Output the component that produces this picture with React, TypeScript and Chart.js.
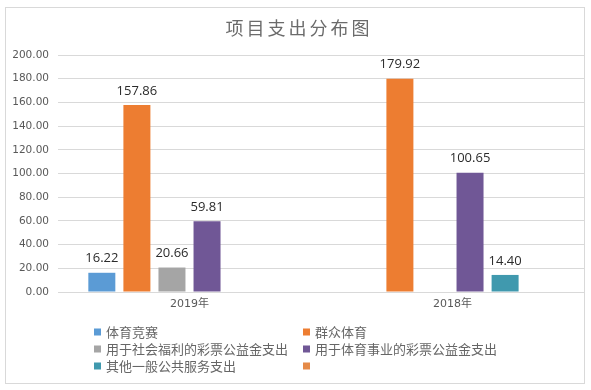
import React, { useEffect, useRef } from 'react';
import { Chart, registerables } from 'chart.js';

Chart.register(...registerables);

const chartTitle = '项目支出分布图';
const categories = ['2019年', '2018年'];
const seriesNames = [
  '体育竞赛',
  '群众体育',
  '用于社会福利的彩票公益金支出',
  '用于体育事业的彩票公益金支出',
  '其他一般公共服务支出',
  '',
];
const sportsCompetition = [16.22, null];
const massSports = [157.86, 179.92];
const welfareLottery = [20.66, null];
const sportsLottery = [59.81, 100.65];
const otherPublicService = [null, 14.4];
const unnamedSeries = [null, null];
const seriesColors = ['#5B9BD5', '#ED7D31', '#A5A5A5', '#705796', '#4099AE', '#E58A48'];
const yMin = 0;
const yMax = 200;
const yStep = 20;

const seriesValues = [
  sportsCompetition,
  massSports,
  welfareLottery,
  sportsLottery,
  otherPublicService,
  unnamedSeries,
];

const CJK = '"Noto Sans CJK SC", "Noto Sans", sans-serif';

const decorPlugin = {
  id: 'decor',
  afterDatasetsDraw(chart: any) {
    const ctx = chart.ctx;
    ctx.save();
    // value labels
    ctx.font = '13px "Open Sans", "DejaVu Sans", sans-serif';
    ctx.fillStyle = '#2B2B2B';
    ctx.textAlign = 'center';
    ctx.textBaseline = 'middle';
    chart.data.datasets.forEach((ds: any, i: number) => {
      const meta = chart.getDatasetMeta(i);
      meta.data.forEach((bar: any, j: number) => {
        const v = ds.data[j];
        if (v === null || v === undefined) return;
        ctx.fillText(Number(v).toFixed(2), bar.x, bar.y - 14);
      });
    });
    // title
    ctx.font = `18px ${CJK}`;
    ctx.fillStyle = '#6B6B6B';
    try {
      (ctx as any).letterSpacing = '3px';
    } catch (e) {}
    ctx.fillText(chartTitle, 299, 28);
    try {
      (ctx as any).letterSpacing = '0px';
    } catch (e) {}
    // legend
    ctx.font = `13px ${CJK}`;
    ctx.textAlign = 'left';
    const colX = [94, 303];
    const rowY = [332, 349, 366];
    seriesNames.forEach((name, i) => {
      const x = colX[i % 2];
      const y = rowY[Math.floor(i / 2)];
      ctx.fillStyle = seriesColors[i];
      ctx.fillRect(x, y - 3.5, 7, 7);
      ctx.fillStyle = '#666666';
      ctx.fillText(name, x + 12, y);
    });
    ctx.restore();
  },
};

export default function App() {
  const canvasRef = useRef<HTMLCanvasElement | null>(null);

  useEffect(() => {
    document.body.style.margin = '0';
    const canvas = canvasRef.current;
    if (!canvas) return;
    const chart = new Chart(canvas, {
      type: 'bar',
      data: {
        labels: categories,
        datasets: seriesValues.map((vals, i) => ({
          label: seriesNames[i],
          data: vals as any,
          backgroundColor: seriesColors[i],
          borderWidth: 0,
          categoryPercentage: 0.8,
          barPercentage: 0.77,
        })),
      },
      options: {
        animation: false,
        responsive: false,
        maintainAspectRatio: false,
        layout: { padding: { left: 0, right: 7, top: 55, bottom: 0 } },
        plugins: {
          legend: { display: false },
          title: { display: false },
          tooltip: { enabled: false },
        },
        scales: {
          x: {
            grid: { display: false, drawTicks: false },
            border: { display: false },
            ticks: {
              padding: 6,
              color: '#595959',
              font: { size: 11, family: '"DejaVu Sans", "Noto Sans CJK SC", sans-serif' },
            },
            afterFit: (s: any) => {
              s.height = 98;
            },
          },
          y: {
            min: yMin,
            max: yMax,
            ticks: {
              stepSize: yStep,
              padding: 9,
              color: '#595959',
              font: { size: 10.5, family: '"DejaVu Sans", sans-serif' },
              callback: (v: any) => Number(v).toFixed(2),
            },
            grid: { color: '#D9D9D9', drawTicks: false, lineWidth: 1 },
            border: { display: false },
            afterFit: (s: any) => {
              s.width = 58;
            },
          },
        },
      },
      plugins: [decorPlugin],
    });
    return () => chart.destroy();
  }, []);

  return (
    <div style={{ position: 'relative', width: 591, height: 390, background: '#fff' }}>
      <div
        style={{
          position: 'absolute',
          left: 5,
          top: 7,
          width: 580,
          height: 377,
          border: '1px solid #D9D9D9',
          boxSizing: 'border-box',
        }}
      />
      <canvas
        ref={canvasRef}
        width={591}
        height={390}
        style={{ position: 'absolute', left: 0, top: 0, width: 591, height: 390 }}
      />
    </div>
  );
}
